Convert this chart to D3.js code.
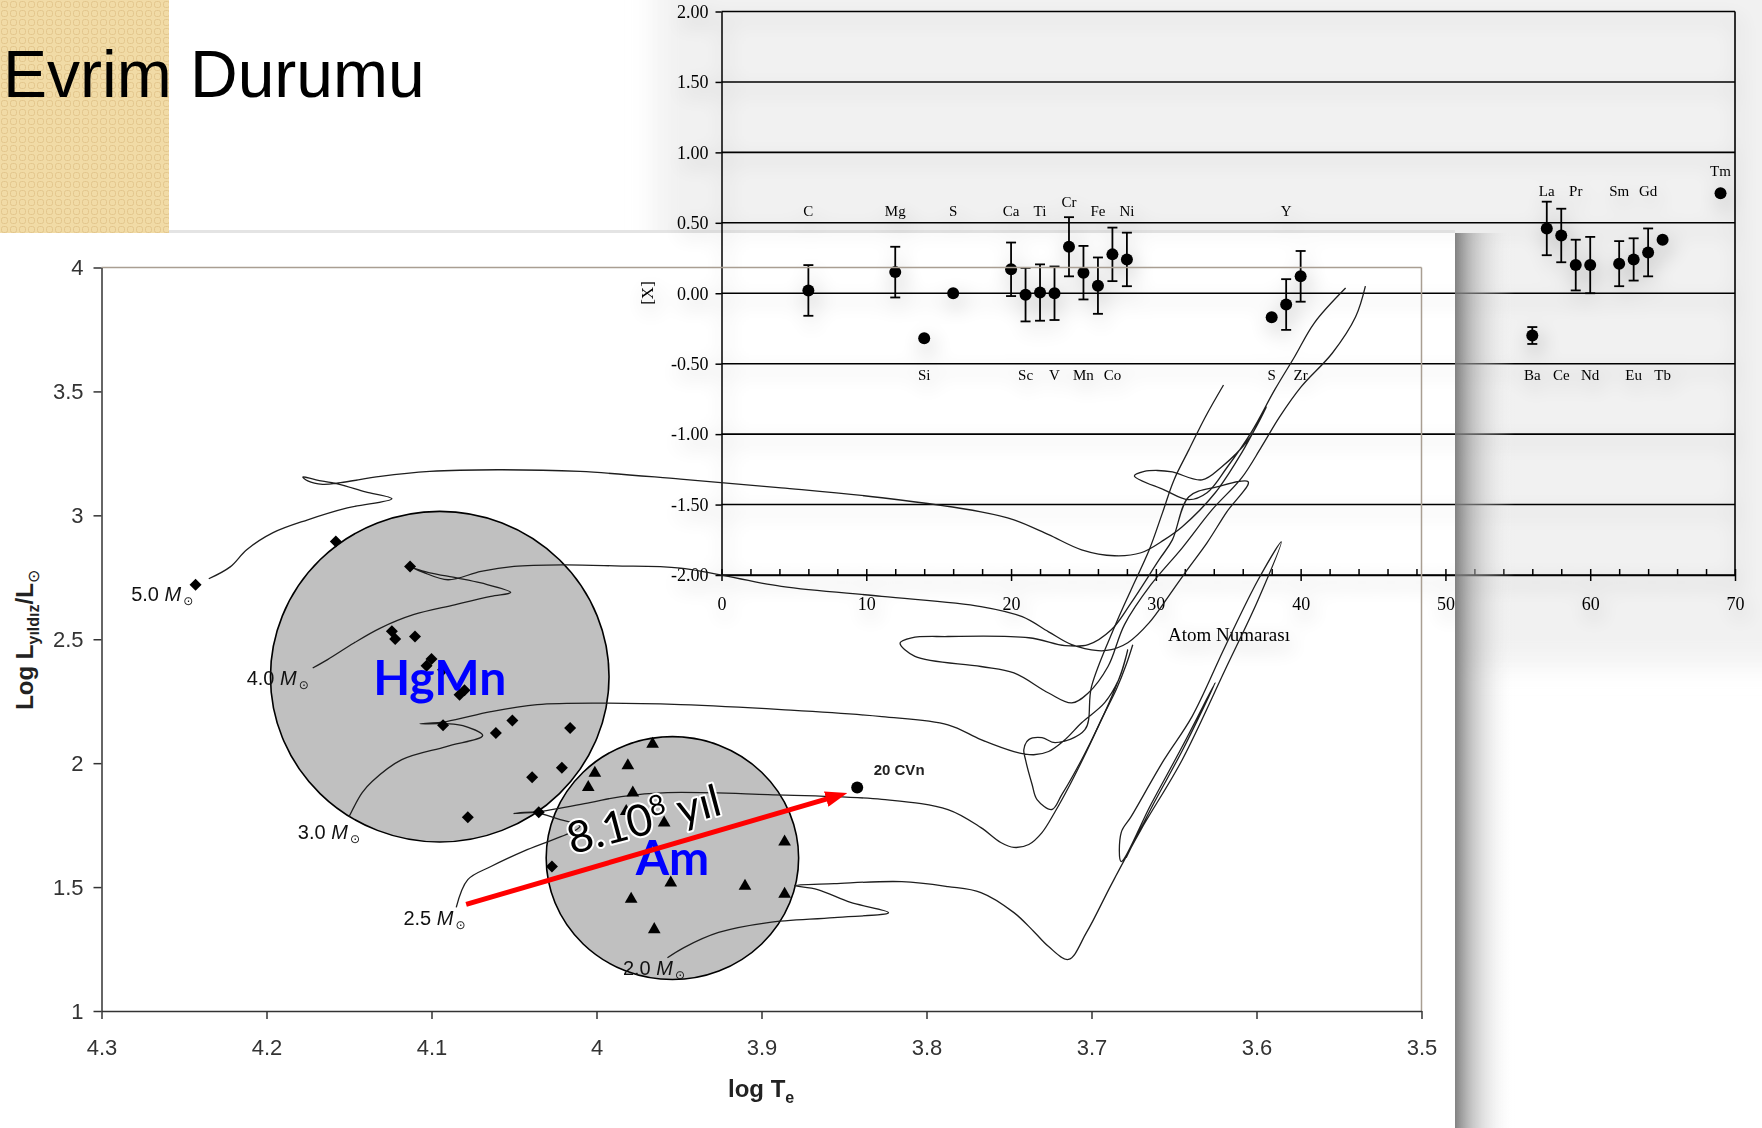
<!doctype html>
<html lang="tr">
<head>
<meta charset="UTF-8">
<title>Evrim Durumu</title>
<style>
  * { margin: 0; padding: 0; }
  body { background: #fff; }
  .hr-axis path, .hr-axis line { stroke: #333; stroke-width: 1.5; }
  .hr-axis text { font-family: "Liberation Sans", Arial, sans-serif; font-size: 22px; fill: #333; }
  .ab-axis path, .ab-axis line { stroke: #000; stroke-width: 1.5; }
  .ab-axis text { font-family: "Liberation Serif", "Times New Roman", serif; font-size: 18px; fill: #000; }
</style>
<script src="https://cdn.jsdelivr.net/npm/d3@7"></script>
</head>
<body>
<script>
// ---------- abundance panel data ----------
var elementLabels = ["C","Mg","Si","S","Ca","Sc","Ti","V","Cr","Mn","Fe","Co","Ni","S","Y","Zr","Ba","La","Ce","Pr","Nd","Sm","Eu","Gd","Tb","Tm"];
var atomNumbers   = [6,12,14,16,20,21,22,23,24,25,26,27,28,38,39,40,56,57,58,59,60,62,63,64,65,69];
var abundances    = [0.02,0.15,-0.32,0.00,0.17,-0.01,0.005,0.00,0.33,0.146,0.054,0.276,0.24,-0.17,-0.08,0.12,-0.30,0.46,0.41,0.20,0.20,0.21,0.24,0.29,0.38,0.71];
var abundErrors   = [0.18,0.18,0,0,0.19,0.19,0.20,0.19,0.21,0.19,0.20,0.19,0.19,0,0.18,0.18,0.06,0.19,0.19,0.18,0.20,0.16,0.15,0.17,0,0];
var labelRows     = ["u","u","d","u","u","d","u","d","c","d","u","d","u","d","u","d","d","l","d","l","d","l","d","l","d","t"];
var abYTicks = [-2,-1.5,-1,-0.5,0,0.5,1,1.5,2];
var abXTicks = [0,10,20,30,40,50,60,70];

// ---------- HR diagram data (log Te, log L) ----------
var hrXTicks = [4.3,4.2,4.1,4.0,3.9,3.8,3.7,3.6,3.5];
var hrYTicks = [1,1.5,2,2.5,3,3.5,4];

var track50 = [[4.235,2.744],[4.222,2.792],[4.212,2.861],[4.196,2.930],[4.175,2.982],[4.151,3.030],[4.124,3.067],[4.140,3.095],[4.157,3.127],[4.170,3.143],[4.178,3.155],[4.175,3.139],[4.166,3.125],[4.155,3.132],[4.131,3.157],[4.101,3.177],[4.060,3.184],[4.010,3.177],[3.949,3.146],[3.888,3.111],[3.827,3.071],[3.767,3.014],[3.747,2.982],[3.726,2.922],[3.706,2.861],[3.686,2.837],[3.670,2.849],[3.656,2.901],[3.645,2.954],[3.625,3.091],[3.609,3.252],[3.594,3.438],[3.605,3.305],[3.621,3.196],[3.633,3.143],[3.651,3.175],[3.660,3.181],[3.668,3.177],[3.674,3.159],[3.656,3.103],[3.641,3.063],[3.630,3.091],[3.618,3.192],[3.603,3.337],[3.589,3.506],[3.577,3.639],[3.565,3.776],[3.546,3.917]];
var track40 = [[4.172,2.384],[4.163,2.418],[4.147,2.485],[4.131,2.545],[4.111,2.599],[4.086,2.639],[4.064,2.673],[4.052,2.689],[4.070,2.727],[4.084,2.747],[4.101,2.768],[4.111,2.787],[4.105,2.770],[4.090,2.740],[4.070,2.774],[4.050,2.794],[4.020,2.800],[3.989,2.796],[3.949,2.787],[3.888,2.713],[3.827,2.673],[3.767,2.632],[3.742,2.591],[3.726,2.530],[3.712,2.478],[3.696,2.454],[3.688,2.458],[3.678,2.486],[3.665,2.567],[3.653,2.676],[3.642,2.780],[3.630,2.889],[3.618,3.014],[3.605,3.135],[3.624,3.115],[3.641,3.075],[3.651,2.901],[3.659,2.821],[3.676,2.647],[3.688,2.538],[3.702,2.478],[3.716,2.474],[3.738,2.506],[3.787,2.511],[3.809,2.506],[3.816,2.485],[3.807,2.431],[3.767,2.390],[3.747,2.364],[3.726,2.283],[3.712,2.243],[3.702,2.283],[3.690,2.390],[3.680,2.559],[3.664,2.720],[3.645,2.869],[3.627,3.022],[3.609,3.151],[3.597,3.276],[3.586,3.397],[3.573,3.518],[3.554,3.655],[3.540,3.800],[3.534,3.925]];
var track30 = [[4.150,1.784],[4.142,1.881],[4.136,1.926],[4.118,2.014],[4.091,2.067],[4.069,2.111],[4.081,2.151],[4.091,2.159],[4.107,2.159],[4.091,2.168],[4.064,2.208],[4.036,2.236],[3.997,2.242],[3.949,2.236],[3.888,2.216],[3.827,2.188],[3.787,2.155],[3.767,2.095],[3.747,2.047],[3.735,2.034],[3.726,2.047],[3.716,2.095],[3.706,2.163],[3.692,2.244],[3.683,2.345],[3.678,2.458],[3.682,2.365],[3.692,2.204],[3.706,2.014],[3.718,1.873],[3.724,1.813],[3.733,1.853],[3.736,1.914],[3.740,2.014],[3.741,2.055],[3.738,2.095],[3.730,2.103],[3.722,2.083],[3.704,2.135],[3.700,2.309],[3.686,2.550],[3.676,2.700],[3.665,2.861],[3.657,3.010],[3.650,3.143],[3.641,3.264],[3.631,3.397],[3.620,3.526]];
var track25 = [[4.085,1.418],[4.078,1.530],[4.064,1.583],[4.042,1.651],[4.012,1.732],[4.010,1.748],[4.022,1.772],[4.037,1.801],[4.050,1.797],[4.034,1.805],[4.004,1.841],[3.985,1.865],[3.957,1.881],[3.896,1.873],[3.827,1.854],[3.787,1.813],[3.767,1.740],[3.755,1.680],[3.747,1.660],[3.738,1.672],[3.730,1.720],[3.722,1.805],[3.713,1.914],[3.703,2.047],[3.694,2.176],[3.685,2.297],[3.679,2.397],[3.675,2.478]];
var track20 = [[3.957,1.215],[3.947,1.256],[3.926,1.317],[3.896,1.357],[3.856,1.377],[3.823,1.397],[3.846,1.438],[3.866,1.490],[3.880,1.506],[3.856,1.514],[3.815,1.522],[3.787,1.502],[3.767,1.478],[3.747,1.397],[3.735,1.321],[3.726,1.260],[3.714,1.208],[3.703,1.317],[3.688,1.510],[3.670,1.732],[3.645,2.014],[3.619,2.377],[3.599,2.659],[3.585,2.893],[3.599,2.740],[3.619,2.471],[3.639,2.189],[3.656,2.014],[3.676,1.784],[3.682,1.720],[3.682,1.603],[3.664,1.833],[3.645,2.067],[3.625,2.325],[3.644,2.063],[3.662,1.841],[3.679,1.619]];

var trackMasses = ["5.0","4.0","3.0","2.5","2.0"];
var trackLabelAt = [[4.282,2.653],[4.212,2.317],[4.181,1.692],[4.117,1.349],[3.984,1.147]];

var hgmnStars = [[4.243,2.720],[4.158,2.894],[4.113,2.794],[4.124,2.532],[4.122,2.501],[4.110,2.511],[4.100,2.420],[4.103,2.393],[4.093,2.377],[4.083,2.276],[4.080,2.294],[4.093,2.153],[4.051,2.172],[4.061,2.122],[4.016,2.142],[4.039,1.943],[4.021,1.981],[4.078,1.782],[4.035,1.802],[4.027,1.583]];
var amStars = [[3.966,2.077],[3.981,1.990],[4.001,1.960],[4.005,1.902],[3.978,1.880],[3.982,1.806],[3.959,1.759],[3.955,1.517],[3.979,1.452],[3.965,1.329],[3.886,1.683],[3.910,1.504],[3.886,1.472]];
var cvn = [3.842,1.902];
var cvnLabelAt = [3.832,1.954];
// region circles: centre (log Te, log L) and radii in axis units
var hgmnRegion = {c:[4.095,2.349], r:[0.1026,0.667]};
var amRegion   = {c:[3.954,1.617], r:[0.0765,0.490]};
var ageArrow = [[4.079,1.430],[3.848,1.880]];
var ageLabelAt = [4.015,1.631];

// ---------- canvas ----------
var width = 1762, height = 1128;
var svg = d3.select("body").append("svg")
  .attr("width", width).attr("height", height)
  .style("display", "block");
var defs = svg.append("defs");

var pat = defs.append("pattern").attr("id", "beige")
  .attr("width", 9).attr("height", 9).attr("patternUnits", "userSpaceOnUse");
pat.append("rect").attr("width", 9).attr("height", 9).attr("fill", "#f1dba6");
pat.append("rect").attr("x", 1.5).attr("y", 1.5).attr("width", 6).attr("height", 6).attr("rx", 2)
  .attr("fill", "none").attr("stroke", "#e3c68d").attr("stroke-width", 1);

var soft = defs.append("filter").attr("id", "soft")
  .attr("x", "-5%").attr("y", "-10%").attr("width", "110%").attr("height", "130%");
soft.append("feGaussianBlur").attr("in", "SourceAlpha").attr("stdDeviation", 10).attr("result", "b");
soft.append("feOffset").attr("in", "b").attr("dx", 3).attr("dy", 8).attr("result", "o");
soft.append("feComponentTransfer").attr("in", "o").attr("result", "s")
  .append("feFuncA").attr("type", "linear").attr("slope", 0.3);
var mrg = soft.append("feMerge");
mrg.append("feMergeNode").attr("in", "s");
mrg.append("feMergeNode").attr("in", "SourceGraphic");

defs.append("filter").attr("id", "blur")
  .attr("x", "-20%").attr("y", "-20%").attr("width", "140%").attr("height", "140%")
  .append("feGaussianBlur").attr("stdDeviation", 14);

var edge = defs.append("linearGradient").attr("id", "edge");
edge.append("stop").attr("offset", "0%").attr("stop-color", "#777").attr("stop-opacity", 0.92);
edge.append("stop").attr("offset", "30%").attr("stop-color", "#a5a5a5").attr("stop-opacity", 0.6);
edge.append("stop").attr("offset", "100%").attr("stop-color", "#ffffff").attr("stop-opacity", 0);

defs.append("marker").attr("id", "head")
  .attr("markerUnits", "userSpaceOnUse").attr("viewBox", "0 0 22 16")
  .attr("refX", 8).attr("refY", 8).attr("markerWidth", 22).attr("markerHeight", 16)
  .attr("orient", "auto")
  .append("path").attr("d", "M0,0L22,8L0,16Z").attr("fill", "#ff0000");

svg.append("rect").attr("width", width).attr("height", height).attr("fill", "#fff");

// slide title block
svg.append("rect").attr("x", 0).attr("y", 0).attr("width", 169).attr("height", 233).attr("fill", "url(#beige)");
svg.append("text").attr("x", 3).attr("y", 97)
  .style("font-family", "'Liberation Sans', Arial, sans-serif").style("font-size", "66px")
  .attr("fill", "#000").text("Evrim Durumu");

// abundance picture backdrop
svg.append("rect").attr("x", 655).attr("y", -40).attr("width", 1160).attr("height", 705)
  .attr("fill", "#f1f1f1").attr("filter", "url(#blur)");

// HR picture backdrop
svg.append("rect").attr("x", 0).attr("y", 233).attr("width", 1455).attr("height", height - 233).attr("fill", "#fff");
svg.append("line").attr("x1", 169).attr("x2", 1455).attr("y1", 231.5).attr("y2", 231.5)
  .attr("stroke", "#e4e4e4").attr("stroke-width", 3);

// ---------- abundance chart ----------
var xA = d3.scaleLinear().domain([0, 70]).range([721.5, 1735]);
var yA = d3.scaleLinear().domain([-2, 2]).range([575, 11.5]);
var ab = svg.append("g").attr("filter", "url(#soft)");

ab.selectAll("line.grid").data(abYTicks).enter().append("line")
  .attr("class", "grid")
  .attr("x1", xA(0)).attr("x2", xA(70))
  .attr("y1", function (d) { return yA(d); }).attr("y2", function (d) { return yA(d); })
  .attr("stroke", "#000").attr("stroke-width", 1.6);
ab.append("line").attr("x1", xA(70)).attr("x2", xA(70)).attr("y1", yA(2)).attr("y2", yA(-2))
  .attr("stroke", "#000").attr("stroke-width", 1.6);

ab.append("g").attr("class", "ab-axis")
  .attr("transform", "translate(" + xA(0) + ",0)")
  .call(d3.axisLeft(yA).tickValues(abYTicks).tickSize(6).tickSizeOuter(0).tickPadding(7)
    .tickFormat(function (d) { return d.toFixed(2); }));

ab.append("g").attr("class", "ab-axis")
  .attr("transform", "translate(0," + yA(-2) + ")")
  .call(d3.axisBottom(xA).tickValues(abXTicks).tickSize(6).tickSizeOuter(0).tickPadding(16));
var minor = ab.append("g").attr("class", "ab-axis")
  .attr("transform", "translate(0," + yA(-2) + ")")
  .call(d3.axisTop(xA).tickValues(d3.range(0, 71, 2)).tickSize(6).tickSizeOuter(0).tickFormat(""));
minor.select(".domain").remove();

ab.append("text").attr("x", 1229).attr("y", 641)
  .attr("text-anchor", "middle")
  .style("font-family", "'Liberation Serif', 'Times New Roman', serif").style("font-size", "19px")
  .text("Atom Numarası");
ab.append("text").attr("transform", "translate(653,293) rotate(-90)")
  .attr("text-anchor", "middle")
  .style("font-family", "'Liberation Serif', 'Times New Roman', serif").style("font-size", "17px")
  .text("[X]");

var rowLevel = {u: 0.545, c: 0.615, l: 0.69, t: 0.83, d: -0.615};
var abRows = atomNumbers.map(function (z, i) {
  return {z: z, v: abundances[i], e: abundErrors[i], name: elementLabels[i], row: labelRows[i]};
});

var bars = ab.selectAll("g.err").data(abRows.filter(function (d) { return d.e > 0; }))
  .enter().append("g").attr("class", "err")
  .attr("stroke", "#000").attr("stroke-width", 1.8);
bars.append("line")
  .attr("x1", function (d) { return xA(d.z); }).attr("x2", function (d) { return xA(d.z); })
  .attr("y1", function (d) { return yA(d.v + d.e); }).attr("y2", function (d) { return yA(d.v - d.e); });
bars.append("line")
  .attr("x1", function (d) { return xA(d.z) - 5; }).attr("x2", function (d) { return xA(d.z) + 5; })
  .attr("y1", function (d) { return yA(d.v + d.e); }).attr("y2", function (d) { return yA(d.v + d.e); });
bars.append("line")
  .attr("x1", function (d) { return xA(d.z) - 5; }).attr("x2", function (d) { return xA(d.z) + 5; })
  .attr("y1", function (d) { return yA(d.v - d.e); }).attr("y2", function (d) { return yA(d.v - d.e); });

ab.selectAll("circle.ab").data(abRows).enter().append("circle")
  .attr("class", "ab")
  .attr("cx", function (d) { return xA(d.z); }).attr("cy", function (d) { return yA(d.v); })
  .attr("r", 6).attr("fill", "#000");

ab.selectAll("text.el").data(abRows).enter().append("text")
  .attr("class", "el")
  .attr("x", function (d) { return xA(d.z); })
  .attr("y", function (d) { return yA(rowLevel[d.row]); })
  .attr("text-anchor", "middle")
  .style("font-family", "'Liberation Serif', 'Times New Roman', serif").style("font-size", "15px")
  .text(function (d) { return d.name; });

// shadow along right edge of the HR picture
svg.append("rect").attr("x", 1455).attr("y", 233).attr("width", 60).attr("height", height - 233)
  .attr("fill", "url(#edge)");

// ---------- HR diagram ----------
var x = d3.scaleLinear().domain([4.3, 3.5]).range([101.5, 1421.5]);
var y = d3.scaleLinear().domain([1, 4]).range([1011, 267.5]);
var hr = svg.append("g");

hr.append("line").attr("x1", x(4.3)).attr("x2", x(3.5)).attr("y1", y(4)).attr("y2", y(4))
  .attr("stroke", "#a99e92").attr("stroke-width", 1.5);
hr.append("line").attr("x1", x(3.5)).attr("x2", x(3.5)).attr("y1", y(4)).attr("y2", y(1))
  .attr("stroke", "#a99e92").attr("stroke-width", 1.5);

hr.append("g").attr("class", "hr-axis")
  .attr("transform", "translate(" + x(4.3) + ",0)")
  .call(d3.axisLeft(y).tickValues(hrYTicks).tickSize(8).tickSizeOuter(0).tickPadding(10)
    .tickFormat(function (d) { return String(d); }));
hr.append("g").attr("class", "hr-axis")
  .attr("transform", "translate(0," + y(1) + ")")
  .call(d3.axisBottom(x).tickValues(hrXTicks).tickSize(8).tickSizeOuter(0).tickPadding(20)
    .tickFormat(function (d) { return String(+d.toFixed(1)); }));

hr.append("text").attr("x", 728).attr("y", 1097)
  .style("font-family", "'Liberation Sans', Arial, sans-serif").style("font-size", "24px")
  .style("font-weight", "bold").attr("fill", "#222")
  .call(function (t) {
    t.append("tspan").text("log T");
    t.append("tspan").attr("dy", 6).style("font-size", "16px").text("e");
  });
hr.append("text").attr("transform", "translate(33,640) rotate(-90)")
  .attr("text-anchor", "middle")
  .style("font-family", "'Liberation Sans', Arial, sans-serif").style("font-size", "24px")
  .style("font-weight", "bold").attr("fill", "#222")
  .call(function (t) {
    t.append("tspan").text("Log L");
    t.append("tspan").attr("dy", 6).style("font-size", "16px").text("yıldız");
    t.append("tspan").attr("dy", -6).text("/L");
    t.append("tspan").attr("dy", 6).style("font-size", "16px").style("font-weight", "normal").text("⊙");
  });

// star regions
[hgmnRegion, amRegion].forEach(function (reg) {
  hr.append("ellipse")
    .attr("cx", x(reg.c[0])).attr("cy", y(reg.c[1]))
    .attr("rx", Math.abs(x(reg.c[0] + reg.r[0]) - x(reg.c[0])))
    .attr("ry", Math.abs(y(reg.c[1] + reg.r[1]) - y(reg.c[1])))
    .attr("fill", "#c0c0c0").attr("stroke", "#000").attr("stroke-width", 1.6);
});

// evolutionary tracks
var line = d3.line()
  .x(function (d) { return x(d[0]); })
  .y(function (d) { return y(d[1]); })
  .curve(d3.curveCatmullRom.alpha(0.5));
hr.selectAll("path.track").data([track50, track40, track30, track25, track20]).enter()
  .append("path").attr("class", "track")
  .attr("d", line).attr("fill", "none").attr("stroke", "#1e1e1e").attr("stroke-width", 1.3);

// stars
hr.selectAll("path.hgmn").data(hgmnStars).enter().append("path")
  .attr("class", "hgmn")
  .attr("d", d3.symbol(d3.symbolSquare, 72))
  .attr("transform", function (d) { return "translate(" + x(d[0]) + "," + y(d[1]) + ") rotate(45)"; })
  .attr("fill", "#000");
hr.selectAll("path.am").data(amStars).enter().append("path")
  .attr("class", "am")
  .attr("d", d3.symbol(d3.symbolTriangle, 70))
  .attr("transform", function (d) { return "translate(" + x(d[0]) + "," + y(d[1]) + ")"; })
  .attr("fill", "#000");
hr.append("circle").attr("cx", x(cvn[0])).attr("cy", y(cvn[1])).attr("r", 6).attr("fill", "#000");
hr.append("text").attr("x", x(cvnLabelAt[0])).attr("y", y(cvnLabelAt[1]))
  .style("font-family", "'Liberation Sans', Arial, sans-serif").style("font-size", "15px")
  .style("font-weight", "bold").attr("fill", "#222").text("20 CVn");

// track mass labels
hr.selectAll("text.mass").data(trackMasses).enter().append("text")
  .attr("class", "mass")
  .attr("x", function (d, i) { return x(trackLabelAt[i][0]); })
  .attr("y", function (d, i) { return y(trackLabelAt[i][1]); })
  .style("font-family", "'Liberation Sans Narrow', 'Liberation Sans', Arial, sans-serif")
  .style("font-size", "20px").attr("fill", "#111")
  .each(function (d) {
    var t = d3.select(this);
    t.append("tspan").text(d + " ");
    t.append("tspan").style("font-style", "italic").text("M");
    t.append("tspan").attr("dx", 2).attr("dy", 4).style("font-size", "12px")
      .style("font-family", "'DejaVu Sans', sans-serif").text("⊙");
  });

// region names
hr.append("text").attr("x", x(hgmnRegion.c[0])).attr("y", y(hgmnRegion.c[1]) + 18)
  .attr("text-anchor", "middle")
  .style("font-family", "Lato, 'Liberation Sans', sans-serif").style("font-size", "48px")
  .style("font-weight", "bold").attr("fill", "#0000ff").text("HgMn");
hr.append("text").attr("x", x(amRegion.c[0])).attr("y", y(amRegion.c[1]) + 17)
  .attr("text-anchor", "middle")
  .style("font-family", "Lato, 'Liberation Sans', sans-serif").style("font-size", "48px")
  .style("font-weight", "bold").attr("fill", "#0000ff").text("Am");

// age arrow
var p0 = [x(ageArrow[0][0]), y(ageArrow[0][1])];
var p1 = [x(ageArrow[1][0]), y(ageArrow[1][1])];
var len = Math.hypot(p1[0] - p0[0], p1[1] - p0[1]);
var cut = 14 / len;
hr.append("line")
  .attr("x1", p0[0]).attr("y1", p0[1])
  .attr("x2", p1[0] - (p1[0] - p0[0]) * cut).attr("y2", p1[1] - (p1[1] - p0[1]) * cut)
  .attr("stroke", "#ff0000").attr("stroke-width", 5)
  .attr("marker-end", "url(#head)");

hr.append("text")
  .attr("transform", "translate(" + x(ageLabelAt[0]) + "," + y(ageLabelAt[1]) + ") rotate(-15)")
  .style("font-family", "Lato, 'Open Sans', sans-serif").style("font-size", "44px")
  .attr("fill", "#000").attr("stroke", "#fff").attr("stroke-width", 4)
  .attr("paint-order", "stroke").attr("stroke-linejoin", "round")
  .call(function (t) {
    t.append("tspan").text("8.10");
    t.append("tspan").attr("dy", -16).style("font-size", "28px").text("8");
    t.append("tspan").attr("dy", 16).text(" yıl");
  });
</script>
</body>
</html>
